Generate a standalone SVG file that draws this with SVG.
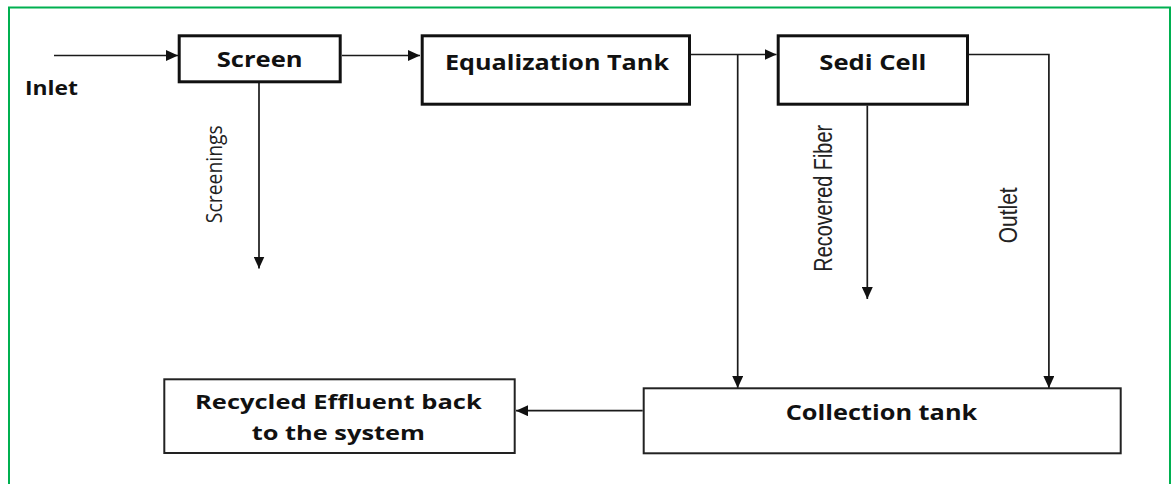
<svg xmlns="http://www.w3.org/2000/svg" width="1172" height="484" viewBox="0 0 1172 484">
  <style>
    .frame { fill: none; stroke: #00B050; stroke-width: 2; }
    .box-thick { fill: #ffffff; stroke: #111111; stroke-width: 3; }
    .box-thin { fill: #ffffff; stroke: #222222; stroke-width: 2; }
    .flow { fill: none; stroke: #1a1a1a; stroke-width: 1.7; }
    .lbl { font-family: "Open Sans", "DejaVu Sans", sans-serif; font-weight: 700; fill: #111111; }
    .side { font-family: "Liberation Sans", Arial, sans-serif; font-weight: 400; fill: #222222; text-anchor: middle; }
    .side2 { font-family: "Open Sans", "Liberation Sans", sans-serif; font-weight: 400; fill: #222222; text-anchor: middle; }
  </style>
  <defs>
    <marker id="arrow" markerUnits="userSpaceOnUse" markerWidth="12" markerHeight="11" refX="12" refY="5.5" orient="auto">
      <path d="M0,0 L12,5.5 L0,11 z" fill="#111111"/>
    </marker>
  </defs>

  <rect width="1172" height="484" fill="#ffffff"/>
  <!-- outer frame (open at the bottom) -->
  <path class="frame" d="M9,484 V7.5 H1170 V484"/>

  <!-- process flow connectors -->
  <g id="connectors">
    <line class="flow" x1="54" y1="55.5" x2="178" y2="55.5" marker-end="url(#arrow)"/>
    <line class="flow" x1="342" y1="55.5" x2="420" y2="55.5" marker-end="url(#arrow)"/>
    <line class="flow" x1="691" y1="54.5" x2="776.5" y2="54.5" marker-end="url(#arrow)"/>
    <line class="flow" x1="737.7" y1="54.5" x2="737.7" y2="388" marker-end="url(#arrow)"/>
    <polyline class="flow" points="969,54.5 1048.9,54.5 1048.9,388" marker-end="url(#arrow)"/>
    <line class="flow" x1="259" y1="83" x2="259" y2="268.5" marker-end="url(#arrow)"/>
    <line class="flow" x1="867.3" y1="105.5" x2="867.3" y2="299" marker-end="url(#arrow)"/>
    <line class="flow" x1="642.7" y1="410.7" x2="516" y2="410.7" marker-end="url(#arrow)"/>
  </g>

  <!-- stream labels -->
  <g id="labels">
    <text class="lbl" x="25" y="95" font-size="19" textLength="53" lengthAdjust="spacingAndGlyphs">Inlet</text>
    <text class="side2" font-size="18.5" textLength="98" lengthAdjust="spacingAndGlyphs" transform="translate(221.5,174.2) rotate(-90) scale(1,1.2)">Screenings</text>
    <text class="side" font-size="20" textLength="146.7" lengthAdjust="spacingAndGlyphs" transform="translate(831.5,198.3) rotate(-90) scale(1,1.25)">Recovered Fiber</text>
    <text class="side" font-size="20" textLength="56" lengthAdjust="spacingAndGlyphs" transform="translate(1017,215.3) rotate(-90) scale(1,1.25)">Outlet</text>
  </g>

  <g id="screen">
    <rect class="box-thick" x="179.2" y="35.8" width="161" height="46"/>
    <text class="lbl" x="216.7" y="66.7" font-size="21" textLength="86" lengthAdjust="spacingAndGlyphs">Screen</text>
  </g>

  <g id="equalization-tank">
    <rect class="box-thick" x="422.2" y="35.8" width="267.3" height="68.4"/>
    <text class="lbl" x="445" y="70" font-size="21" textLength="224" lengthAdjust="spacingAndGlyphs">Equalization Tank</text>
  </g>

  <g id="sedi-cell">
    <rect class="box-thick" x="778.2" y="35.8" width="189.3" height="68.4"/>
    <text class="lbl" x="819.3" y="70" font-size="21" textLength="107" lengthAdjust="spacingAndGlyphs">Sedi Cell</text>
  </g>

  <g id="collection-tank">
    <rect class="box-thin" x="643.7" y="388.3" width="477" height="65"/>
    <text class="lbl" x="785.7" y="420" font-size="21" textLength="191.6" lengthAdjust="spacingAndGlyphs">Collection tank</text>
  </g>

  <g id="recycled-effluent">
    <rect class="box-thin" x="164.3" y="379.3" width="350.4" height="73.7"/>
    <text class="lbl" x="195" y="408.5" font-size="20" textLength="286.7" lengthAdjust="spacingAndGlyphs">Recycled Effluent back</text>
    <text class="lbl" x="251.7" y="440" font-size="20" textLength="173.3" lengthAdjust="spacingAndGlyphs">to the system</text>
  </g>
</svg>
